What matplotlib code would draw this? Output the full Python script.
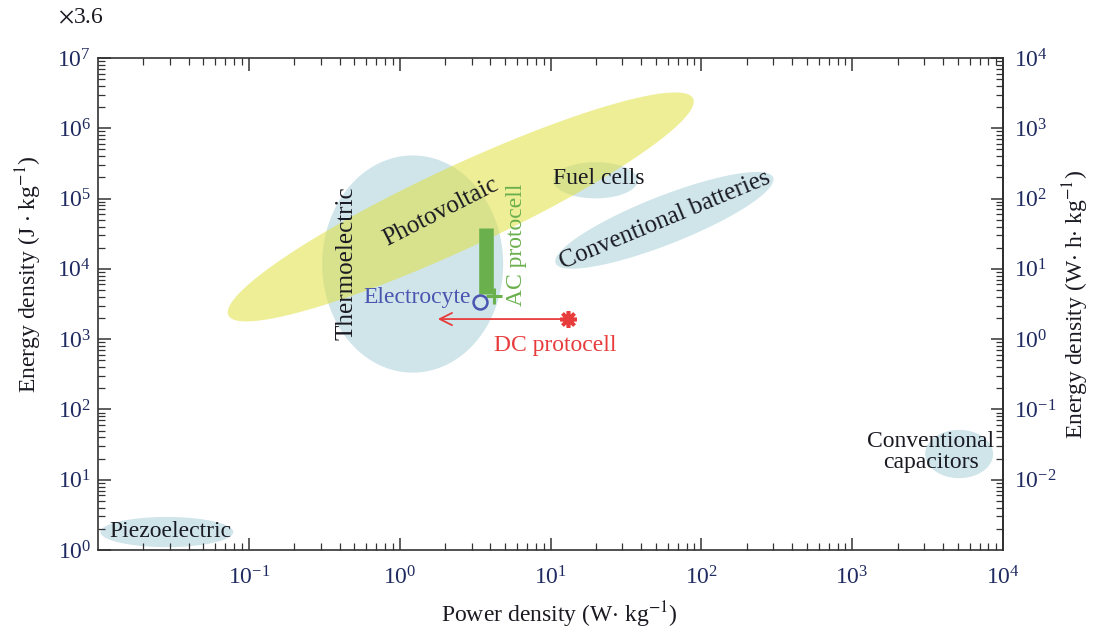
import numpy as np
import matplotlib
matplotlib.use("Agg")
import matplotlib.pyplot as plt

plt.rcParams['font.family'] = ['Liberation Serif', 'DejaVu Serif']
plt.rcParams['mathtext.fontset'] = 'stix'

# technology regions: centre (W/kg, J/kg), semi-axes in decades of power, tilt (deg)
regions = ['Photovoltaic', 'Thermoelectric', 'Fuel cells', 'Conventional batteries',
           'Conventional capacitors', 'Piezoelectric']
region_power = [2.54, 1.22, 19.9, 56.9, 5120, 0.0286]
region_energy = [7.6e4, 1.17e4, 1.82e5, 4.9e4, 23.2, 1.8]
region_long = [1.70, 0.60, 0.28, 0.775, 0.225, 0.44]
region_short = [0.27, 0.72, 0.12, 0.16, 0.16, 0.10]
region_tilt = [25, 0, 0, 21.5, 0, 0]

# measured devices
electrocyte = (3.39, 3370)
ac_power = [3.72, 3.72]
ac_energy = [4.4e3, 3.8e4]
ac_point = (4.2, 4100)
dc_power = [13.0, 1.79]
dc_energy = [1930, 1930]

xticks = [1e-1, 1e0, 1e1, 1e2, 1e3, 1e4]
yticks = [1e0, 1e1, 1e2, 1e3, 1e4, 1e5, 1e6, 1e7]
yticks_wh = [1e-2, 1e-1, 1e0, 1e1, 1e2, 1e3, 1e4]

yellow = '#e0e040'
blue = '#a8d0da'
green = '#6ab04c'
red = '#e83c3c'
navy = '#4a55b0'
tickcol = '#1f2a60'
txt = '#1a1a22'

fig = plt.figure(figsize=(10.94, 6.31), dpi=100)
ax = fig.add_axes([0.0896, 0.1284, 0.8272, 0.7797])
ax.set_xscale('log')
ax.set_yscale('log')
ax.set_xlim(1e-2, 1e4)
ax.set_ylim(1e0, 1e7)

# ratio of px per y-decade to px per x-decade
bb = ax.get_position()
r = (bb.height * 6.31 / 7) / (bb.width * 10.94 / 6)

t = np.linspace(0, 2 * np.pi, 300)
for i, name in enumerate(regions):
    th = np.radians(region_tilt[i])
    a, b = region_long[i], region_short[i]
    du = a * np.cos(t) * np.cos(th) - b * np.sin(t) * np.sin(th)
    dv = a * np.cos(t) * np.sin(th) + b * np.sin(t) * np.cos(th)
    col = yellow if name == 'Photovoltaic' else blue
    ax.fill(region_power[i] * 10 ** du, region_energy[i] * 10 ** (dv / r),
            color=col, alpha=0.55, lw=0, zorder=1 if col == blue else 2)

# AC protocell bar + end marker
ax.plot(ac_power, ac_energy, color=green, lw=10.5, solid_capstyle='butt', zorder=3)
ax.plot(*ac_point, marker='+', color=green, ms=11, mew=2.2, zorder=4)
# electrocyte
ax.plot(*electrocyte, marker='o', mfc='none', mec=navy, ms=10, mew=1.8, zorder=5)
# DC protocell
ax.annotate('', xy=(dc_power[1], dc_energy[1]), xytext=(dc_power[0], dc_energy[0]),
            arrowprops=dict(arrowstyle='->', color=red, lw=1.3,
                            mutation_scale=22, shrinkA=0, shrinkB=0), zorder=4)
ax.plot(dc_power[0], dc_energy[0], marker=(8, 2, 0), color=red, ms=12, mew=2.6, zorder=5)

fs = 17
ax.text(0.446, 1.2e4, 'Thermoelectric', rotation=90, ha='center', va='center',
        fontsize=18, color=txt, zorder=6)
ax.text(1.87, 6.4e4, 'Photovoltaic', rotation=27, ha='center', va='center',
        fontsize=18, color=txt, zorder=6)
ax.text(5.96, 2.2e4, 'AC protocell', rotation=90, ha='center', va='center',
        fontsize=fs, color=green, zorder=6)
ax.text(2.95, 3850, 'Electrocyte', ha='right', va='center', fontsize=fs, color=navy, zorder=6)
ax.text(10.8, 820, 'DC protocell', ha='center', va='center', fontsize=fs, color=red, zorder=6)
ax.text(20.8, 1.95e5, 'Fuel cells', ha='center', va='center', fontsize=fs, color=txt, zorder=6)
ax.text(57.8, 4.9e4, 'Conventional batteries', rotation=22.5, ha='center', va='center',
        fontsize=18, color=txt, zorder=6)
ax.text(3335, 24.8, 'Conventional\ncapacitors', ha='center', va='center',
        fontsize=fs, color=txt, linespacing=1.0, zorder=6)
ax.text(0.0118, 1.86, 'Piezoelectric', ha='left', va='center', fontsize=fs, color=txt, zorder=6)

ax.set_xticks(xticks)
ax.set_yticks(yticks)
ax.tick_params(which='both', direction='in', top=True, right=False, labelsize=fs,
               labelcolor=tickcol, color='#333333')
ax.tick_params(which='major', length=9, width=1.1)
ax.tick_params(which='minor', length=5, width=0.9)
ax.tick_params(axis='x', pad=12)
ax.tick_params(axis='y', pad=5)
for s in ax.spines.values():
    s.set_linewidth(1.2)
    s.set_color('#333333')

sec = ax.secondary_yaxis('right', functions=(lambda y: y / 1000, lambda y: y * 1000))
sec.set_yticks(yticks_wh)
sec.tick_params(which='both', direction='in', labelsize=fs, labelcolor=tickcol, color='#333333')
sec.tick_params(which='major', length=9, width=1.1, pad=8)
sec.tick_params(which='minor', length=5, width=0.9)
sec.spines['right'].set_linewidth(1.2)
sec.set_ylabel('Energy density (W$\\cdot$ h$\\cdot$ kg$^{-1}$)', fontsize=fs, color=txt,
               labelpad=3)

ax.set_xlabel('Power density (W$\\cdot$ kg$^{-1}$)', fontsize=fs, color=txt)
ax.xaxis.set_label_coords(0.51, -0.1)
ax.set_ylabel('Energy density (J $\\cdot$ kg$^{-1}$)', fontsize=fs, color=txt)
ax.yaxis.set_label_coords(-0.06, 0.56)

fig.text(0.053, 0.971, '$\\times$3.6', fontsize=fs, color=txt, ha='left', va='center')

fig.savefig('out.png', dpi=100)
